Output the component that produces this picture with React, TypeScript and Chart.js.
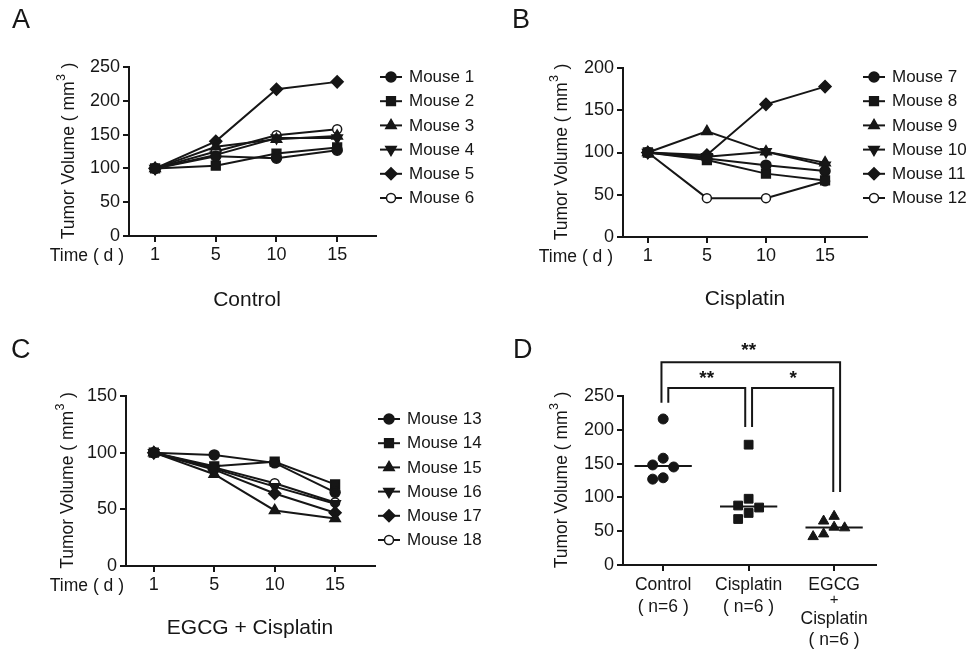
import React, { useEffect, useRef } from 'react';
import { Chart, registerables } from 'chart.js';

Chart.register(...registerables);

const W = 971;
const H = 649;
const INK = '#161616';
const FONT = "'Liberation Sans', Arial, Helvetica, sans-serif";

// ---------------- data ----------------
const days = ['1', '5', '10', '15'];

const controlNames = ['Mouse 1', 'Mouse 2', 'Mouse 3', 'Mouse 4', 'Mouse 5', 'Mouse 6'];
const mouse1 = [100, 118, 115, 127];
const mouse2 = [100, 104, 122, 131];
const mouse3 = [100, 132, 143, 148];
const mouse4 = [100, 120, 145, 145];
const mouse5 = [100, 140, 217, 228];
const mouse6 = [100, 125, 149, 158];

const cisplatinNames = ['Mouse 7', 'Mouse 8', 'Mouse 9', 'Mouse 10', 'Mouse 11', 'Mouse 12'];
const mouse7 = [100, 93, 85, 78];
const mouse8 = [100, 91, 75, 67];
const mouse9 = [100, 125, 101, 88];
const mouse10 = [100, 95, 101, 85];
const mouse11 = [100, 97, 157, 178];
const mouse12 = [100, 46, 46, 66];

const comboNames = ['Mouse 13', 'Mouse 14', 'Mouse 15', 'Mouse 16', 'Mouse 17', 'Mouse 18'];
const mouse13 = [100, 98, 91, 65];
const mouse14 = [100, 88, 92, 72];
const mouse15 = [100, 81, 49, 42];
const mouse16 = [100, 86, 70, 55];
const mouse17 = [100, 85, 64, 47];
const mouse18 = [100, 87, 73, 56];

const groupLabels = [
  ['Control', '( n=6 )'],
  ['Cisplatin', '( n=6 )'],
  ['EGCG', '+', 'Cisplatin', '( n=6 )'],
];
const controlFinal = [216, 158, 148, 145, 129, 127];
const cisplatinFinal = [178, 98, 88, 85, 77, 68];
const comboFinal = [72, 65, 56, 55, 46, 42];
const significance = ['**', '*', '**']; // Control vs Cisplatin, Cisplatin vs Combo, Control vs Combo

// ---------------- styling ----------------
type MarkerStyle = { style: string; rot: number; r: number; fill: string };
const markerStyles: MarkerStyle[] = [
  { style: 'circle', rot: 0, r: 5, fill: INK },
  { style: 'rect', rot: 0, r: 6.2, fill: INK },
  { style: 'triangle', rot: 0, r: 6, fill: INK },
  { style: 'triangle', rot: 180, r: 6, fill: INK },
  { style: 'rectRot', rot: 0, r: 6, fill: INK },
  { style: 'circle', rot: 0, r: 4.5, fill: '#ffffff' },
];

function drawMarker(ctx: CanvasRenderingContext2D, m: MarkerStyle, x: number, y: number) {
  const r = m.r;
  ctx.beginPath();
  if (m.style === 'circle') {
    ctx.arc(x, y, r, 0, Math.PI * 2);
  } else if (m.style === 'rect') {
    const s = Math.SQRT1_2 * r;
    ctx.rect(x - s, y - s, 2 * s, 2 * s);
  } else if (m.style === 'triangle') {
    let a = (m.rot * Math.PI) / 180;
    ctx.moveTo(x + Math.sin(a) * r, y - Math.cos(a) * r);
    a += (2 * Math.PI) / 3;
    ctx.lineTo(x + Math.sin(a) * r, y - Math.cos(a) * r);
    a += (2 * Math.PI) / 3;
    ctx.lineTo(x + Math.sin(a) * r, y - Math.cos(a) * r);
    ctx.closePath();
  } else if (m.style === 'rectRot') {
    ctx.moveTo(x - r, y);
    ctx.lineTo(x, y - r);
    ctx.lineTo(x + r, y);
    ctx.lineTo(x, y + r);
    ctx.closePath();
  }
  ctx.fillStyle = m.fill;
  ctx.fill();
  ctx.lineWidth = 1.5;
  ctx.strokeStyle = INK;
  ctx.stroke();
}

type Area = { left: number; right: number; top: number; bottom: number };
const YW = 50; // forced y-axis width
const XH = 40; // forced x-axis height

function drawYTitle(ctx: CanvasRenderingContext2D, x: number, cy: number) {
  ctx.save();
  ctx.translate(x, cy);
  ctx.rotate(-Math.PI / 2);
  ctx.fillStyle = INK;
  ctx.textBaseline = 'middle';
  ctx.textAlign = 'left';
  const main = `17.5px ${FONT}`;
  const sup = `12.5px ${FONT}`;
  const p1 = 'Tumor Volume ( mm';
  const p3 = ' )';
  ctx.font = main;
  const w1 = ctx.measureText(p1).width;
  const w3 = ctx.measureText(p3).width;
  ctx.font = sup;
  const w2 = ctx.measureText('3').width;
  let x0 = -(w1 + w2 + w3) / 2;
  ctx.font = main;
  ctx.fillText(p1, x0, 0);
  x0 += w1;
  ctx.font = sup;
  ctx.fillText('3', x0 + 0.5, -7);
  x0 += w2 + 1;
  ctx.font = main;
  ctx.fillText(p3, x0, 0);
  ctx.restore();
}

function drawText(
  ctx: CanvasRenderingContext2D,
  text: string,
  x: number,
  y: number,
  size: number,
  align: CanvasTextAlign = 'center',
  weight = 'normal'
) {
  ctx.save();
  ctx.font = `${weight} ${size}px ${FONT}`;
  ctx.fillStyle = INK;
  ctx.textAlign = align;
  ctx.textBaseline = 'middle';
  ctx.fillText(text, x, y);
  ctx.restore();
}

function axisOptions(extra: any) {
  return {
    grid: { drawOnChartArea: false, drawTicks: true, tickLength: 6, lineWidth: 2, color: INK },
    border: { display: true, color: INK, width: 2 },
    ...extra,
  };
}

type LinePanel = {
  letter: string;
  letterPos: [number, number];
  area: Area;
  xMin: number;
  xMax: number;
  yMax: number;
  names: string[];
  series: number[][];
  caption: string;
  captionPos: [number, number];
  titleX: number;
  timeRight: number;
  legendX: number;
  legendY: number;
};

const panelA: LinePanel = {
  letter: 'A',
  letterPos: [12, 21],
  area: { left: 129, right: 376, top: 67, bottom: 236 },
  xMin: -0.43,
  xMax: 3.64,
  yMax: 250,
  names: controlNames,
  series: [mouse1, mouse2, mouse3, mouse4, mouse5, mouse6],
  caption: 'Control',
  captionPos: [247, 300],
  titleX: 69,
  timeRight: 124,
  legendX: 380,
  legendY: 77,
};

const panelB: LinePanel = {
  letter: 'B',
  letterPos: [512, 21],
  area: { left: 623, right: 867, top: 68, bottom: 237 },
  xMin: -0.42,
  xMax: 3.71,
  yMax: 200,
  names: cisplatinNames,
  series: [mouse7, mouse8, mouse9, mouse10, mouse11, mouse12],
  caption: 'Cisplatin',
  captionPos: [745, 299],
  titleX: 562,
  timeRight: 613,
  legendX: 863,
  legendY: 77,
};

const panelC: LinePanel = {
  letter: 'C',
  letterPos: [11, 351],
  area: { left: 126, right: 375, top: 396, bottom: 566 },
  xMin: -0.46,
  xMax: 3.66,
  yMax: 150,
  names: comboNames,
  series: [mouse13, mouse14, mouse15, mouse16, mouse17, mouse18],
  caption: 'EGCG + Cisplatin',
  captionPos: [250, 628],
  titleX: 68,
  timeRight: 124,
  legendX: 378,
  legendY: 419,
};

function makeLineConfig(p: LinePanel) {
  const annot = {
    id: 'annot' + p.letter,
    afterDraw(chart: any) {
      const ctx: CanvasRenderingContext2D = chart.ctx;
      drawText(ctx, p.letter, p.letterPos[0], p.letterPos[1], 27, 'left');
      drawYTitle(ctx, p.titleX, (p.area.top + p.area.bottom) / 2);
      drawText(ctx, 'Time ( d )', p.timeRight, p.area.bottom + 20, 17.5, 'right');
      drawText(ctx, p.caption, p.captionPos[0], p.captionPos[1], 21);
      // legend
      p.names.forEach((name, i) => {
        const y = p.legendY + i * 24.2;
        ctx.save();
        ctx.strokeStyle = INK;
        ctx.lineWidth = 2;
        ctx.beginPath();
        ctx.moveTo(p.legendX, y);
        ctx.lineTo(p.legendX + 22, y);
        ctx.stroke();
        ctx.restore();
        drawMarker(ctx, markerStyles[i], p.legendX + 11, y);
        drawText(ctx, name, p.legendX + 29, y + 0.5, 17, 'left');
      });
    },
  };

  return {
    type: 'line',
    data: {
      datasets: p.series.map((s, i) => ({
        label: p.names[i],
        data: s.map((v, j) => ({ x: j, y: v })),
        borderColor: INK,
        borderWidth: 2,
        tension: 0,
        fill: false,
        pointStyle: markerStyles[i].style,
        rotation: markerStyles[i].rot,
        pointRadius: markerStyles[i].r,
        pointBackgroundColor: markerStyles[i].fill,
        pointBorderColor: INK,
        pointBorderWidth: 1.5,
      })),
    },
    options: {
      responsive: false,
      animation: false,
      events: [],
      layout: {
        padding: {
          left: p.area.left - YW,
          right: W - p.area.right,
          top: p.area.top,
          bottom: H - p.area.bottom - XH,
        },
      },
      plugins: { legend: { display: false }, tooltip: { enabled: false } },
      scales: {
        x: axisOptions({
          type: 'linear',
          min: p.xMin,
          max: p.xMax,
          afterBuildTicks: (s: any) => {
            s.ticks = days.map((_, i) => ({ value: i }));
          },
          afterFit: (s: any) => {
            s.height = XH;
          },
          ticks: {
            autoSkip: false,
            maxRotation: 0,
            padding: 2,
            color: INK,
            font: { family: FONT, size: 18 },
            callback: (v: number) => days[v] ?? '',
          },
        }),
        y: axisOptions({
          min: 0,
          max: p.yMax,
          afterFit: (s: any) => {
            s.width = YW;
          },
          ticks: {
            stepSize: 50,
            padding: 3,
            color: INK,
            font: { family: FONT, size: 18 },
          },
        }),
      },
    },
    plugins: [annot],
  };
}

// ---------------- panel D ----------------
const areaD: Area = { left: 623, right: 876, top: 396, bottom: 565 };
const dYMax = 250;
const dXMin = -0.47;
const dXMax = 2.49;
const dMarkers: MarkerStyle[] = [
  { style: 'circle', rot: 0, r: 5, fill: INK },
  { style: 'rect', rot: 0, r: 6.2, fill: INK },
  { style: 'triangle', rot: 0, r: 6, fill: INK },
];

function swarmSlots(values: number[], pxPerUnit: number, slotPx: number, minDist: number) {
  const placed: { slot: number; v: number }[] = [];
  const slots = [0, -1, 1, -2, 2, -3, 3];
  return values.map((v) => {
    for (const s of slots) {
      const ok = placed.every(
        (q) => Math.hypot((q.slot - s) * slotPx, (q.v - v) * pxPerUnit) >= minDist
      );
      if (ok) {
        placed.push({ slot: s, v });
        return s;
      }
    }
    return 0;
  });
}

function median(values: number[]) {
  const s = [...values].sort((a, b) => a - b);
  const n = s.length;
  return n % 2 ? s[(n - 1) / 2] : (s[n / 2 - 1] + s[n / 2]) / 2;
}

function makeDotConfig() {
  const groups = [controlFinal, cisplatinFinal, comboFinal];
  const pxPerUnit = (areaD.bottom - areaD.top) / dYMax;
  const pxPerGroup = (areaD.right - areaD.left) / (dXMax - dXMin);
  const slotPx = 10.5;

  const annot = {
    id: 'annotD',
    afterDraw(chart: any) {
      const ctx: CanvasRenderingContext2D = chart.ctx;
      const xs = chart.scales.x;
      const ys = chart.scales.y;
      drawText(ctx, 'D', 513, 351, 27, 'left');
      drawYTitle(ctx, 562, (areaD.top + areaD.bottom) / 2);

      // medians
      ctx.save();
      ctx.strokeStyle = INK;
      ctx.lineWidth = 2;
      groups.forEach((g, gi) => {
        const m = median(g);
        const y = ys.getPixelForValue(m);
        ctx.beginPath();
        ctx.moveTo(xs.getPixelForValue(gi - 0.335), y);
        ctx.lineTo(xs.getPixelForValue(gi + 0.335), y);
        ctx.stroke();
      });
      ctx.restore();

      // x labels
      const offsets = [
        [20, 42],
        [20, 42],
        [20, 35, 54, 75],
      ];
      groupLabels.forEach((lines, gi) => {
        const x = xs.getPixelForValue(gi);
        lines.forEach((t, li) => {
          drawText(ctx, t, x, areaD.bottom + offsets[gi][li], t === '+' ? 15 : 17.5);
        });
      });

      // significance brackets (in data space above the groups)
      const bx = (v: number) => xs.getPixelForValue(v);
      const by = (v: number) => ys.getPixelForValue(v);
      ctx.save();
      ctx.strokeStyle = INK;
      ctx.lineWidth = 2;
      const bracket = (x1: number, x2: number, top: number, l1: number, l2: number) => {
        ctx.beginPath();
        ctx.moveTo(bx(x1), by(l1));
        ctx.lineTo(bx(x1), by(top));
        ctx.lineTo(bx(x2), by(top));
        ctx.lineTo(bx(x2), by(l2));
        ctx.stroke();
      };
      bracket(0.06, 0.96, 262, 240, 204);
      bracket(1.04, 1.99, 262, 204, 108);
      bracket(-0.02, 2.07, 300, 240, 108);
      ctx.restore();
      drawText(ctx, significance[0], bx(0.51), by(262) - 9, 19, 'center', 'bold');
      drawText(ctx, significance[1], bx(1.52), by(262) - 9, 19, 'center', 'bold');
      drawText(ctx, significance[2], bx(1.0), by(300) - 11, 19, 'center', 'bold');
    },
  };

  return {
    type: 'scatter',
    data: {
      datasets: groups.map((g, gi) => {
        const slots = swarmSlots(g, pxPerUnit, slotPx, 10);
        return {
          label: groupLabels[gi].join(' '),
          data: g.map((v, i) => ({ x: gi + (slots[i] * slotPx) / pxPerGroup, y: v })),
          pointStyle: dMarkers[gi].style,
          pointRadius: dMarkers[gi].r,
          pointBackgroundColor: INK,
          pointBorderColor: INK,
          pointBorderWidth: 1,
          showLine: false,
        };
      }),
    },
    options: {
      responsive: false,
      animation: false,
      events: [],
      layout: {
        padding: {
          left: areaD.left - YW,
          right: W - areaD.right,
          top: areaD.top,
          bottom: H - areaD.bottom - XH,
        },
      },
      plugins: { legend: { display: false }, tooltip: { enabled: false } },
      scales: {
        x: axisOptions({
          type: 'linear',
          min: dXMin,
          max: dXMax,
          afterBuildTicks: (s: any) => {
            s.ticks = groupLabels.map((_, i) => ({ value: i }));
          },
          afterFit: (s: any) => {
            s.height = XH;
          },
          ticks: { display: true, callback: () => '', font: { family: FONT, size: 18 } },
        }),
        y: axisOptions({
          min: 0,
          max: dYMax,
          afterFit: (s: any) => {
            s.width = YW;
          },
          ticks: {
            stepSize: 50,
            padding: 3,
            color: INK,
            font: { family: FONT, size: 18 },
          },
        }),
      },
    },
    plugins: [annot],
  };
}

function ChartLayer({ make }: { make: () => any }) {
  const ref = useRef<HTMLCanvasElement>(null);
  useEffect(() => {
    const chart = new Chart(ref.current as HTMLCanvasElement, make());
    return () => chart.destroy();
  }, []);
  return (
    <canvas
      ref={ref}
      width={W}
      height={H}
      style={{ position: 'absolute', left: 0, top: 0, width: W, height: H }}
    />
  );
}

export default function App() {
  return (
    <div
      style={{
        position: 'fixed',
        left: 0,
        top: 0,
        width: W,
        height: H,
        background: '#ffffff',
        overflow: 'hidden',
      }}
    >
      <ChartLayer make={() => makeLineConfig(panelA)} />
      <ChartLayer make={() => makeLineConfig(panelB)} />
      <ChartLayer make={() => makeLineConfig(panelC)} />
      <ChartLayer make={() => makeDotConfig()} />
    </div>
  );
}
